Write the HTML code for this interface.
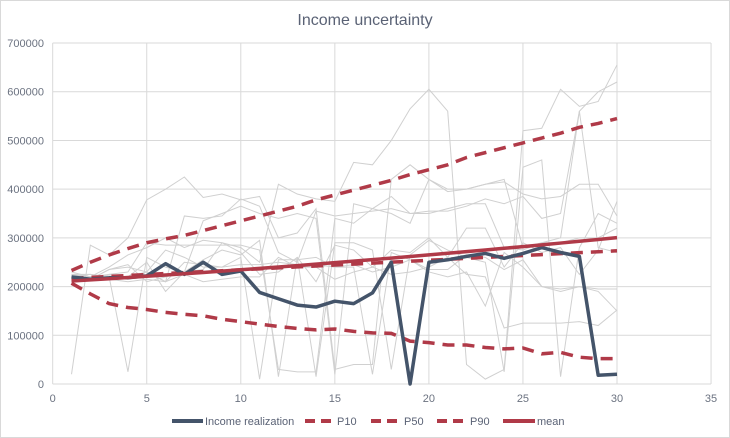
<!DOCTYPE html>
<html><head><meta charset="utf-8"><style>
html,body{margin:0;padding:0;background:#fff}
svg{display:block;font-family:"Liberation Sans",sans-serif}
</style></head><body>
<svg id="c" width="730" height="438" xmlns="http://www.w3.org/2000/svg">
<rect x="0.5" y="0.5" width="729" height="437" fill="#fff" stroke="#d9d9d9"/>
<text x="365" y="25" text-anchor="middle" font-size="16" fill="#5a6275">Income uncertainty</text>
<g id="grid"></g><g id="gray"></g><g id="main"></g><g id="lab"></g>
<g font-size="11" fill="#5a6275">
<line x1="172" y1="421" x2="203" y2="421" stroke="#44546a" stroke-width="4"/>
<text x="205" y="425">Income realization</text>
<line x1="305" y1="421" x2="335" y2="421" stroke="#b03a48" stroke-width="4" stroke-dasharray="10,6"/>
<text x="337" y="425">P10</text>
<line x1="371" y1="421" x2="402" y2="421" stroke="#b03a48" stroke-width="4" stroke-dasharray="10,6"/>
<text x="404" y="425">P50</text>
<line x1="437" y1="421" x2="468" y2="421" stroke="#b03a48" stroke-width="4" stroke-dasharray="10,6"/>
<text x="470" y="425">P90</text>
<line x1="503" y1="421" x2="535" y2="421" stroke="#b03a48" stroke-width="4"/>
<text x="537" y="425">mean</text>
</g>
</svg>
<script>
var X=function(v){return 52.7+v*18.81},Y=function(v){return 384-v*0.4871};
var ns="http://www.w3.org/2000/svg";
function el(p,t,a){var e=document.createElementNS(ns,t);for(var k in a)e.setAttribute(k,a[k]);p.appendChild(e);return e;}
var g=document.getElementById("grid"),lab=document.getElementById("lab");
for(var i=0;i<=7;i++){var y=Y(i*100);el(g,"line",{x1:52.7,x2:711,y1:y,y2:y,stroke:"#d9d9d9","stroke-width":1});
var t=el(lab,"text",{x:44,y:y+4,"text-anchor":"end","font-size":"11",fill:"#6b7280"});t.textContent=i*100000;}
for(var i=0;i<=7;i++){var x=X(i*5);el(g,"line",{x1:x,x2:x,y1:Y(700),y2:384,stroke:"#d9d9d9","stroke-width":1});
var t=el(lab,"text",{x:x,y:402,"text-anchor":"middle","font-size":"11",fill:"#6b7280"});t.textContent=i*5;}
function pts(a){return a.map(function(v,i){return X(i+1)+","+Y(v)}).join(" ");}
var gray=[
[20,285,265,300,378,400,425,383,390,378,385,300,310,360,30,40,40,420,450,420,395,400,410,420,280,290,300,560,600,620],
[225,220,240,265,280,300,280,295,290,280,250,410,390,380,375,455,450,500,565,605,560,40,10,30,520,525,605,570,580,655],
[230,220,225,220,250,190,230,335,350,365,350,340,350,340,20,370,360,350,330,420,400,400,410,415,390,380,385,410,410,345],
[215,215,225,230,290,285,285,285,285,285,275,30,25,25,340,330,360,385,350,350,360,370,370,280,275,290,290,300,300,320],
[215,220,215,210,215,210,345,340,345,380,365,270,250,355,345,350,355,360,350,355,355,365,380,370,385,340,350,560,280,270],
[210,215,235,245,210,220,230,235,290,270,225,230,260,210,285,275,240,275,270,300,260,320,320,240,290,270,280,225,275,375],
[220,225,220,25,260,240,230,255,275,265,295,15,260,15,290,290,275,30,265,295,275,260,250,25,445,460,15,280,350,330],
[225,225,220,220,230,210,250,245,240,245,245,250,245,245,240,245,230,240,255,235,235,265,260,235,255,200,195,200,190,150],
[215,215,235,240,230,275,260,240,240,260,10,255,255,260,240,240,20,270,255,230,220,230,160,270,240,200,190,200,195,195],
[215,218,222,215,230,210,225,210,215,220,220,260,240,240,215,230,240,225,230,240,260,225,220,115,125,125,125,128,120,152]];
var gg=document.getElementById("gray");
gray.forEach(function(a){el(gg,"polyline",{points:pts(a),fill:"none",stroke:"#d0d0d0","stroke-width":1});});
var m=document.getElementById("main");
var p10=[207,185,165,157,153,147,143,140,133,128,123,118,114,111,113,108,105,104,88,85,80,80,75,72,74,62,65,55,52,52];
var p90=[233,250,265,278,290,298,305,315,325,335,345,355,365,378,388,398,408,418,430,440,450,465,475,485,495,505,515,527,535,545];
var p50=[],mean=[];
for(var i=1;i<=30;i++){p50.push(215+i*1.95);mean.push(209+i*2.3+i*i*0.025);}
var inc=[220,215,218,218,222,247,225,250,225,232,188,175,162,158,170,165,187,250,0,250,255,262,268,258,268,280,270,262,18,20];
[p10,p50,p90].forEach(function(a){el(m,"polyline",{points:pts(a),fill:"none",stroke:"#b03a48","stroke-width":3.5,"stroke-dasharray":"12,8"});});
el(m,"polyline",{points:pts(inc),fill:"none",stroke:"#44546a","stroke-width":3.5,"stroke-linejoin":"round"});
el(m,"polyline",{points:pts(mean),fill:"none",stroke:"#b03a48","stroke-width":3.5});
</script>
</body></html>
